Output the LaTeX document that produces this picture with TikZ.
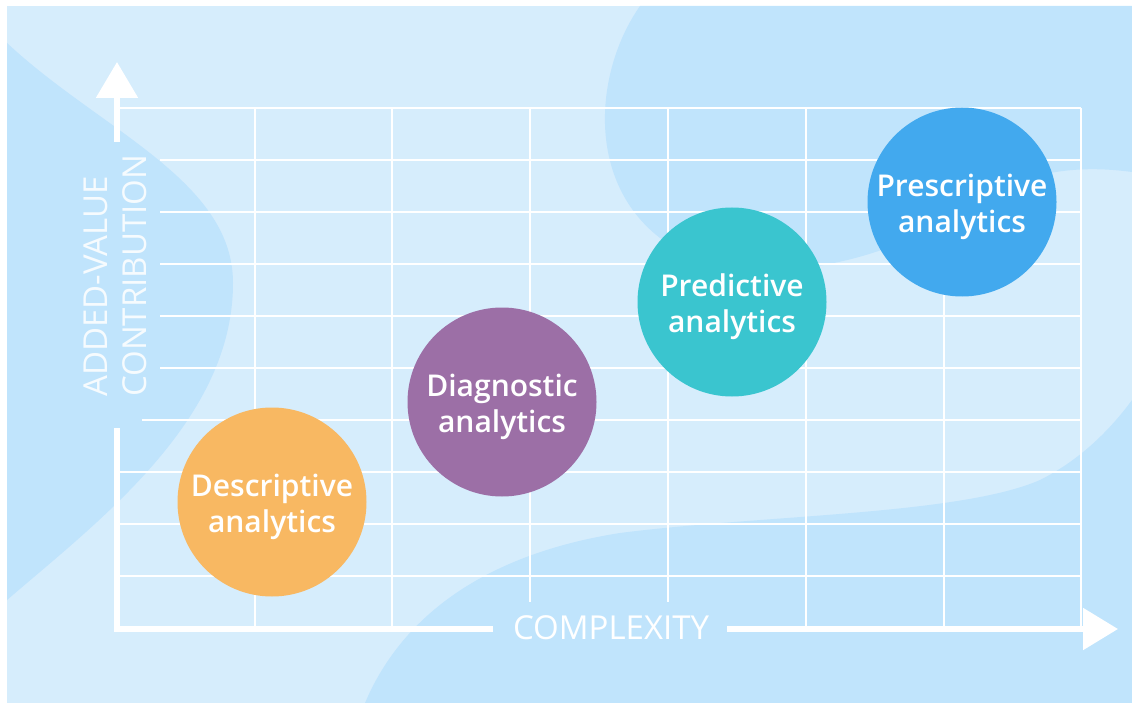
\documentclass[tikz,border=0pt]{standalone}
\usepackage{fontspec}
\setmainfont{Open Sans}
\IfFontExistsTF{Open Sans Semibold}
  {\newfontfamily\BubbleFace{Open Sans Semibold}\newcommand{\BubbleFont}{\BubbleFace}}
  {\newcommand{\BubbleFont}{\bfseries}}
\usepackage{xcolor}
\definecolor{Panel}{RGB}{214,237,252}
\definecolor{Blob}{RGB}{192,228,252}
\definecolor{ColDesc}{RGB}{248,184,98}
\definecolor{ColDiag}{RGB}{156,111,166}
\definecolor{ColPred}{RGB}{58,197,207}
\definecolor{ColPres}{RGB}{66,169,238}
\usetikzlibrary{arrows.meta}
\tikzstyle{Grid}=[draw=white,line width=2.8pt]
\tikzstyle{Axis}=[draw=white,line width=5.5pt]
\tikzstyle{Bubble}=[circle,minimum size=189pt,inner sep=0pt]
\tikzstyle{BubbleText}=[text=white,align=center,inner sep=0pt,
font=\BubbleFont\fontsize{30}{36}\selectfont]
\tikzstyle{AxisLabel}=[text=white,inner sep=0pt,font=\fontsize{33}{40}\selectfont]

\begin{document}
\begin{tikzpicture}[x=1pt,y=-1pt]
        \useasboundingbox(0,0)rectangle(1132,703);
        \fill[Panel](7,6)rectangle(1132,703);
        % background blobs
        \begin{scope}
        \clip(7,6)rectangle(1132,703);
        \fill[Blob](7,43).. controls (100,130) and (233,180) ..(233,283)
            .. controls (233,420) and (100,520) ..(7,600)--cycle;
        \fill[Blob](640,6).. controls (595,70) and (585,180) ..(660,238)
            .. controls (740,295) and (880,270) ..(980,200)
            .. controls (1030,170) and (1080,165) ..(1132,172)
            --(1132,6)--cycle;
        \fill[Blob](365,703).. controls (400,620) and (480,555) ..(620,533)
            .. controls (760,515) and (960,515) ..(1040,480)
            .. controls (1080,460) and (1110,430) ..(1132,400)
            --(1132,703)--cycle;
        \end{scope}
        % grid
        \draw[Grid](117,108)--(1081,108);
        \draw[Grid](160,160)--(1081,160);
        \draw[Grid](160,212)--(1081,212);
        \draw[Grid](160,264)--(1081,264);
        \draw[Grid](160,316)--(1081,316);
        \draw[Grid](160,368)--(1081,368);
        \draw[Grid](142,420)--(1081,420);
        \draw[Grid](117,472)--(1081,472);
        \draw[Grid](117,524)--(1081,524);
        \draw[Grid](117,576)--(1081,576);
        \draw[Grid](255,108)--(255,629);
        \draw[Grid](392,108)--(392,629);
        \draw[Grid](530,108)--(530,602);
        \draw[Grid](668,108)--(668,602);
        \draw[Grid](806,108)--(806,629);
        \draw[Grid](944,108)--(944,629);
        \draw[Grid](1081,108)--(1081,629);
        % axes
        \coordinate(O)at(117,629);
        \coordinate(ylo)at(117,428);
        \coordinate(yhi)at(117,142);
        \coordinate(ytip)at(117,62);
        \coordinate(xlo)at(493,629);
        \coordinate(xhi)at(727,629);
        \coordinate(xtip)at(1118,629);
        \draw[Axis](ylo)--(O)--(xlo);
        \draw[Axis,-{Triangle[length=36pt,width=41pt]}](yhi)--(ytip);
        \draw[Axis,-{Triangle[length=35pt,width=41pt]}](xhi)--(xtip);
        \node[AxisLabel,anchor=base](cx)at(611,639){COMPLEXITY};
        \node[AxisLabel,anchor=base west,rotate=90,text=white!85!Blob](av1)
            at(107,397){ADDED-VALUE};
        \node[AxisLabel,anchor=base west,rotate=90,text=white!85!Blob](av2)
            at(146.5,397){CONTRIBUTION};
        % bubbles
        \node[Bubble,fill=ColDesc](desc)at(272,502){};
        \node[Bubble,fill=ColDiag](diag)at(502,402){};
        \node[Bubble,fill=ColPred](pred)at(732,302){};
        \node[Bubble,fill=ColPres](pres)at(962,202){};
        \node[BubbleText](descT)at([yshift=-5pt]desc.center){Descriptive\\analytics};
        \node[BubbleText](diagT)at([yshift=-5pt]diag.center){Diagnostic\\analytics};
        \node[BubbleText](predT)at([yshift=-5pt]pred.center){Predictive\\analytics};
        \node[BubbleText](presT)at([yshift=-5pt]pres.center){Prescriptive\\analytics};
    \end{tikzpicture}
\end{document}
